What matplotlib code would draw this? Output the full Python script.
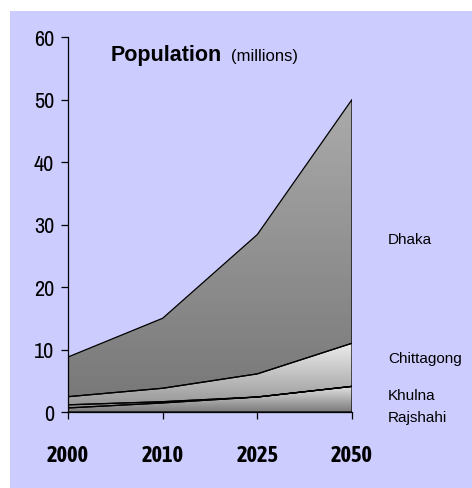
import numpy as np
import matplotlib
matplotlib.use('Agg')
import matplotlib.pyplot as plt
from matplotlib.colors import LinearSegmentedColormap
from matplotlib.patches import Rectangle

# data (stacked layers, bottom to top)
years = ['2000', '2010', '2025', '2050']
rajshahi = [0.65, 1.45, 2.4, 4.1]
khulna = [0.5, 0.2, 0.0, 0.0]
chittagong = [1.3, 2.15, 3.7, 6.9]
dhaka = [6.35, 11.2, 22.3, 39.0]
city_names = ['Dhaka', 'Chittagong', 'Khulna', 'Rajshahi']
label_y = [27.7, 8.6, 2.7, -0.8]

# gradient colours per layer (dark at bottom, light at top)
shades = {
    'rajshahi': ('#7a7a7a', '#e2e2e2'),
    'khulna': ('#7a7a7a', '#e2e2e2'),
    'chittagong': ('#8e8e8e', '#ececec'),
    'dhaka': ('#767676', '#ababab'),
}

narrow = ['Archivo Narrow', 'Liberation Sans']
narrow_bold = ['Asap Condensed', 'Liberation Sans']
plt.rcParams['font.family'] = ['Liberation Sans', 'DejaVu Sans']

W, H = 472, 489
fig = plt.figure(figsize=(W / 100, H / 100), dpi=100)
fig.patch.set_facecolor('white')
fig.add_artist(Rectangle((10 / W, 0), 1 - 10 / W, 1 - 12 / H, transform=fig.transFigure,
                         facecolor='#ccccff', edgecolor='none', zorder=-10))

ax = fig.add_axes([68 / W, 76 / H, 284 / W, 375 / H])
ax.set_facecolor('none')

x = np.arange(len(years))
layers = [('rajshahi', rajshahi), ('khulna', khulna), ('chittagong', chittagong), ('dhaka', dhaka)]
base = np.zeros(len(years))
for key, vals in layers:
    top = base + np.array(vals)
    poly = ax.fill_between(x, base, top, facecolor='none', edgecolor='black', linewidth=0.9, zorder=3)
    cmap = LinearSegmentedColormap.from_list(key, shades[key])
    grad = np.linspace(0, 1, 256).reshape(-1, 1)
    im = ax.imshow(grad, cmap=cmap, aspect='auto', origin='lower',
                   extent=[0, 3, 0, top.max()], zorder=2)
    im.set_clip_path(poly.get_paths()[0], ax.transData)
    base = top

ax.set_xlim(0, 3)
ax.set_ylim(0, 60)
ax.set_yticks(range(0, 61, 10))
ax.set_xticks(x)
ax.set_xticklabels(years, fontfamily=narrow_bold, fontweight='bold', fontsize=16)
for lab in ax.get_yticklabels():
    lab.set_fontfamily(narrow)
    lab.set_fontsize(16)
ax.tick_params(axis='y', direction='out', length=5, width=0.9, pad=5)
ax.tick_params(axis='x', direction='out', length=5, width=0.9, pad=18)
for s in ['top', 'right']:
    ax.spines[s].set_visible(False)
for s in ['left', 'bottom']:
    ax.spines[s].set_linewidth(0.9)
    ax.spines[s].set_zorder(4)

ax.text(0.454, 56.3, 'Population', fontsize=15.5, fontweight='bold', va='baseline')
ax.text(1.72, 56.3, '(millions)', fontsize=12, va='baseline')

for name, yy in zip(city_names, label_y):
    ax.text(3.38, yy, name, fontsize=11, va='center', ha='left', clip_on=False)

fig.savefig('out.png', dpi=100)
